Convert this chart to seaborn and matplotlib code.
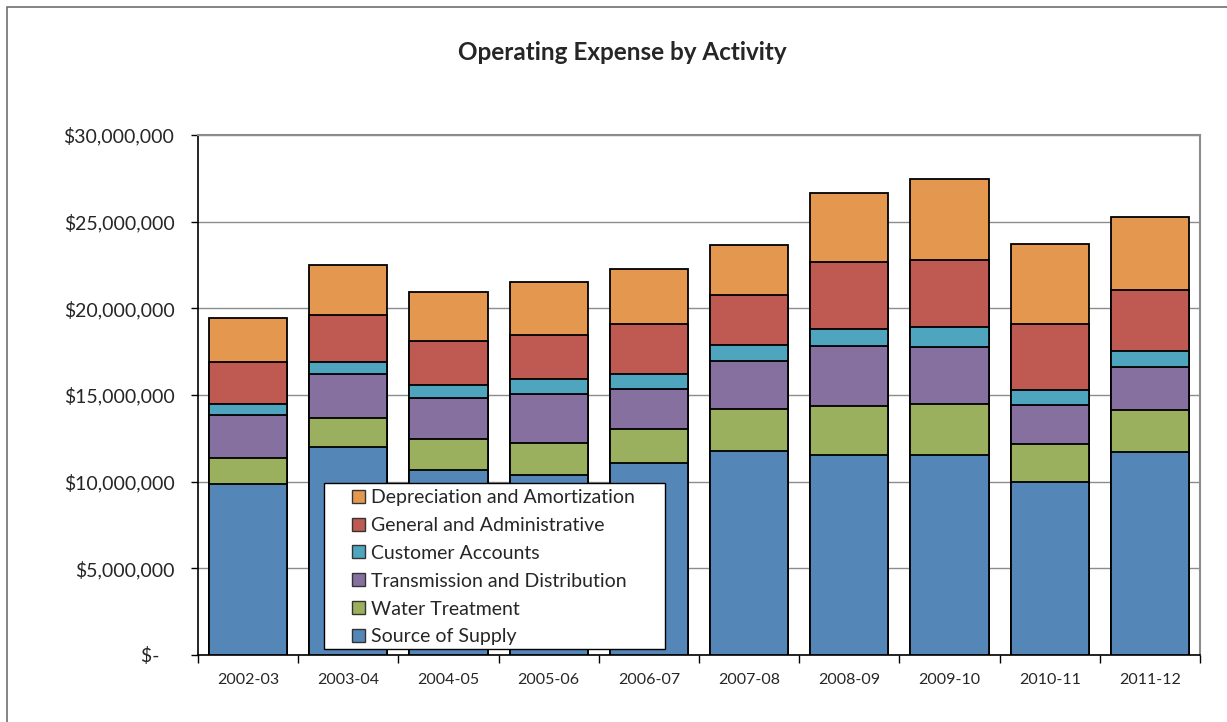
import matplotlib
matplotlib.use("Agg")
import matplotlib.pyplot as plt
from matplotlib.patches import Patch, Rectangle
from matplotlib.ticker import FuncFormatter, FixedLocator
import numpy as np
import pandas as pd
import seaborn as sns

years = ["2002-03", "2003-04", "2004-05", "2005-06", "2006-07",
         "2007-08", "2008-09", "2009-10", "2010-11", "2011-12"]

# Expenses in millions of dollars, by activity
source_of_supply = [9.88, 12.00, 10.69, 10.37, 11.08, 11.77, 11.54, 11.52, 9.98, 11.71]
water_treatment = [1.49, 1.65, 1.79, 1.84, 1.94, 2.44, 2.84, 2.94, 2.19, 2.41]
transmission_distribution = [2.50, 2.58, 2.35, 2.87, 2.35, 2.77, 3.47, 3.31, 2.25, 2.50]
customer_accounts = [0.61, 0.66, 0.73, 0.84, 0.86, 0.90, 0.98, 1.15, 0.85, 0.94]
general_administrative = [2.42, 2.73, 2.57, 2.54, 2.85, 2.91, 3.86, 3.89, 3.83, 3.52]
depreciation_amortization = [2.56, 2.86, 2.83, 3.04, 3.17, 2.84, 3.94, 4.63, 4.59, 4.17]

series = [
    ("Source of Supply", source_of_supply, "#5586B8"),
    ("Water Treatment", water_treatment, "#9BB05E"),
    ("Transmission and Distribution", transmission_distribution, "#85709F"),
    ("Customer Accounts", customer_accounts, "#4FA5BE"),
    ("General and Administrative", general_administrative, "#BE5A52"),
    ("Depreciation and Amortization", depreciation_amortization, "#E4984F"),
]

font = ["Lato", "DejaVu Sans"]
sns.set_style("white")
plt.rcParams["font.family"] = font

W, H = 1227, 722
fig = plt.figure(figsize=(W / 100, H / 100), dpi=100)
fig.patch.set_facecolor("white")

# outer chart frame
fig.add_artist(Rectangle((7 / W, -0.01), 1.02, (H - 7) / H + 0.01,
                         transform=fig.transFigure, fill=False,
                         edgecolor="#6f6f6f", linewidth=1.2))

ax = fig.add_axes([198 / W, (H - 655) / H, 1002 / W, 520 / H])

# cumulative stack heights, drawn from the tallest down so each layer shows
df = pd.DataFrame({"year": years})
cum = np.zeros(len(years))
stacks = []
for name, vals, color in series:
    cum = cum + np.array(vals) * 1e6
    stacks.append((name, cum.copy(), color))

for name, heights, color in reversed(stacks):
    df["h"] = heights
    sns.barplot(data=df, x="year", y="h", color=color, width=0.78,
                edgecolor="black", linewidth=1.3, saturation=1, ax=ax, zorder=3)

ax.set_xlim(-0.5, 9.5)
ax.set_ylim(0, 30e6)
ax.set_xlabel("")
ax.set_ylabel("")

ax.set_yticks(np.arange(0, 30e6 + 1, 5e6))
ax.yaxis.set_major_formatter(FuncFormatter(
    lambda v, p: "$-   " if v == 0 else "${:,.0f}".format(v)))
ax.yaxis.grid(True, color="#8c8c8c", linewidth=1)
ax.set_axisbelow(True)

ax.tick_params(axis="y", which="major", direction="out", length=5, width=1,
               color="black", labelsize=14, pad=12, left=True)
ax.tick_params(axis="x", which="major", length=0, labelsize=11.5, pad=13)
ax.xaxis.set_minor_locator(FixedLocator(np.arange(-0.5, 10, 1)))
ax.tick_params(axis="x", which="minor", direction="out", length=6, width=1,
               color="black", bottom=True)

for s in ["left", "bottom"]:
    ax.spines[s].set_color("black")
    ax.spines[s].set_linewidth(1.2)
for s in ["top", "right"]:
    ax.spines[s].set_color("#8c8c8c")
    ax.spines[s].set_linewidth(1.5)

fig.text(622 / W, (H - 52) / H, "Operating Expense by Activity", ha="center",
         va="center", fontsize=17.5, fontweight="bold")

# legend box, drawn over the bars
box = Rectangle((324 / W, (H - 649) / H), (665 - 324) / W, (649 - 483) / H,
                transform=fig.transFigure, facecolor="white",
                edgecolor="black", linewidth=1, zorder=9, clip_on=False)
ax.add_patch(box)

handles = [Patch(facecolor=c, edgecolor="#333333", linewidth=1, label=n)
           for n, _, c in reversed(series)]
leg = ax.legend(handles=handles, loc="upper left",
                bbox_to_anchor=(352 / W, (H - 489) / H),
                bbox_transform=fig.transFigure, frameon=False,
                fontsize=14, handlelength=0.65, handleheight=0.65,
                handletextpad=0.35, labelspacing=0.56, borderpad=0,
                borderaxespad=0)
leg.set_zorder(10)

fig.savefig("out.png", dpi=100)
